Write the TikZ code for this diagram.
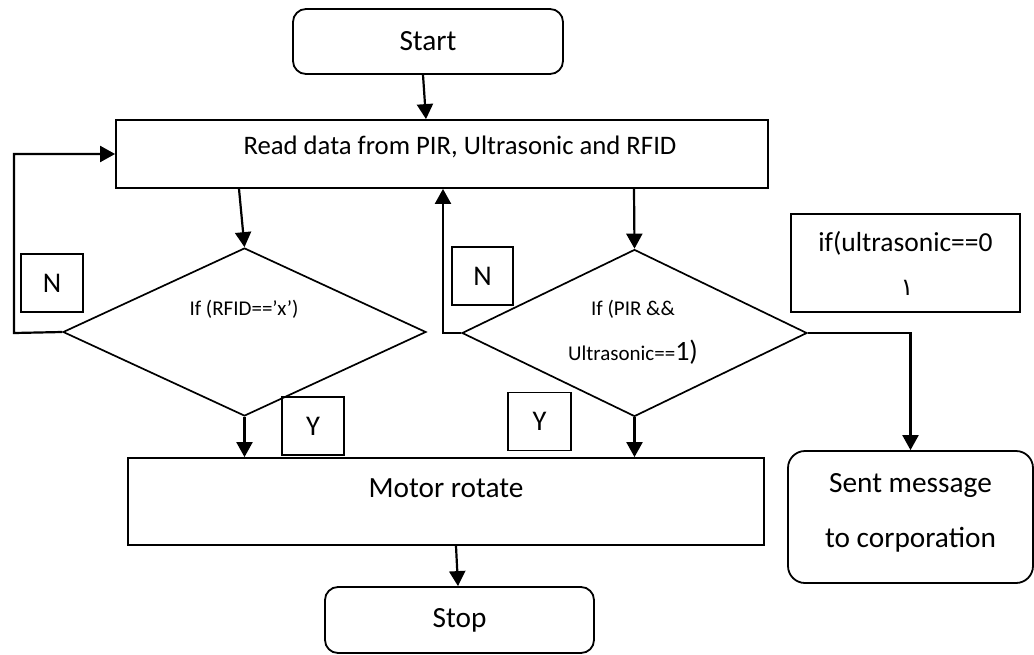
\documentclass[tikz,border=0pt]{standalone}
\usepackage{fontspec}
\setmainfont{Carlito}
\newfontfamily\arabicfont[Script=Arabic]{DejaVu Sans}
\TeXXeTstate=1
\usetikzlibrary{shapes.geometric,arrows.meta,calc}
\begin{document}
\begin{tikzpicture}[x=1pt,y=-1pt,
  box/.style={draw,line width=1.8pt,rectangle,inner sep=0pt},
  rbox/.style={box,rounded corners=13pt},
  dia/.style={draw,line width=1.7pt,diamond,inner sep=0pt},
  arr/.style={line width=2.2pt,-{Triangle[length=15pt,width=16pt]}},
  big/.style={inner sep=0pt,font=\fontsize{29.3}{35}\selectfont},
  mid/.style={inner sep=0pt,font=\fontsize{26.7}{32}\selectfont},
  small/.style={inner sep=0pt,font=\fontsize{21}{25}\selectfont},
  lbl/.style={box,minimum width=62pt,minimum height=58pt,font=\fontsize{28.5}{34}\selectfont}]
\useasboundingbox (0,0) rectangle (1034,654);

% boxes
\node[rbox,minimum width=270pt,minimum height=65pt,big] (start) at (428,41.5) {Start};
\node[box,minimum width=652pt,minimum height=68pt] (read) at (442,154) {};
\node[mid] (readt) at (460,147) {Read data from PIR, Ultrasonic and RFID};

\node[dia,minimum width=363pt,minimum height=168pt] (dL) at (244.5,332) {};
\node[small] (tL) at (244,309) {If (RFID==’x’)};
\node[dia,minimum width=345pt,minimum height=167pt] (dR) at (634.5,333) {};
\node[small] (tR1) at (633,309) {If (PIR \&\&};
\node[inner sep=0pt] (tR2) at (633,352) {\fontsize{21}{25}\selectfont Ultrasonic==\fontsize{28}{34}\selectfont 1)};

\node[lbl] (nL) at (52,283) {N};
\node[lbl,minimum width=61pt] (nR) at (482.5,276) {N};
\node[lbl] (yL) at (313,426) {Y};
\node[lbl,minimum width=63pt] (yR) at (539.5,421.5) {Y};

\node[box,minimum width=229pt,minimum height=98pt] (ultra) at (905.5,263) {};
\node[inner sep=0pt,font=\fontsize{27.5}{33}\selectfont] (u1) at (905.5,243) {if(ultrasonic==0};
\node[inner sep=0pt,font=\fontsize{24}{28}\arabicfont] (u2) at (907,288) {\beginR ١\endR};

\node[box,minimum width=636pt,minimum height=87pt] (motor) at (446,501.5) {};
\node[big] (motort) at (446,488) {Motor rotate};

\node[rbox,minimum width=269pt,minimum height=66pt,big] (stop) at (459.5,620) {Stop};

\node[rbox,rounded corners=17pt,minimum width=245pt,minimum height=132pt] (sent) at (910.5,517) {};
\node[big] (s1) at (910.5,486) {Sent message};
\node[big] (s2) at (910.5,540) {to corporation};

% connectors
\draw[arr] ([xshift=-5pt]start.south) -- ([xshift=-16pt]read.north);
\draw[arr] ([xshift=-203pt]read.south) -- (dL.north);
\draw[arr] ([xshift=192pt]read.south) -- (dR.north);

\coordinate (loopL) at (14,333);
\draw[arr] (dL.west) -- (loopL) |- (read.west);

\coordinate (loopR) at (443,333);
\draw[arr] (dR.west) -- (loopR) -- (loopR |- read.south);

\draw[arr] (dR.east) -| (sent.north);
\draw[arr] (dL.south) -- (dL.south |- motor.north);
\draw[arr] (dR.south) -- (dR.south |- motor.north);
\draw[arr] ([xshift=10pt]motor.south) -- ([xshift=-1.5pt]stop.north);
\end{tikzpicture}
\end{document}
